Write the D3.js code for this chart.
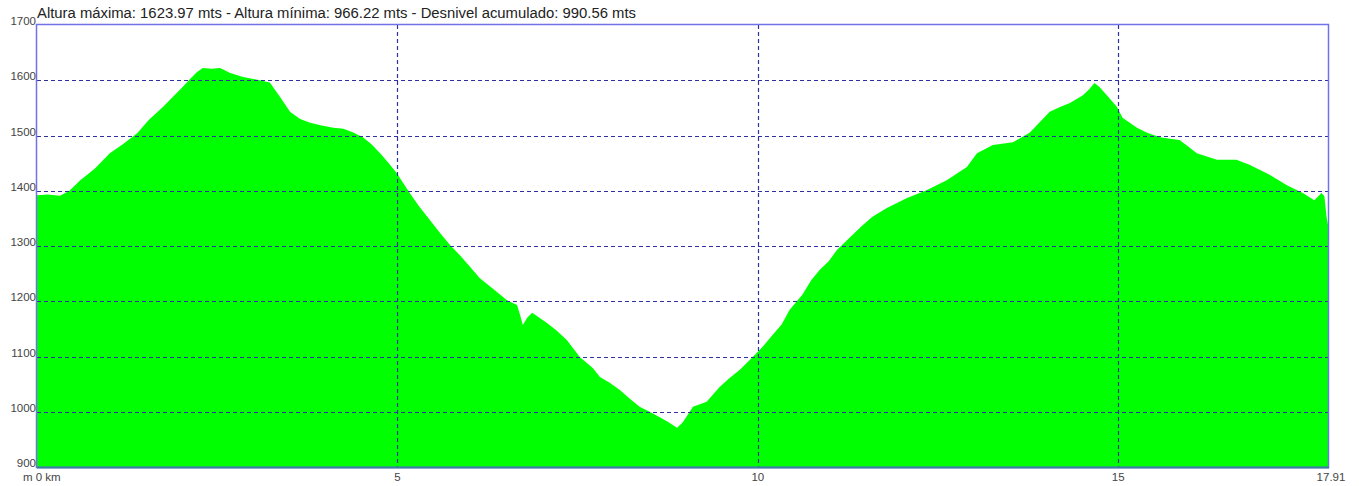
<!DOCTYPE html>
<html>
<head>
<meta charset="utf-8">
<script src="https://cdn.jsdelivr.net/npm/d3@7"></script>
<style>
  html, body { margin: 0; padding: 0; background: #ffffff; }
  text { font-family: "Liberation Sans", Arial, sans-serif; }
</style>
</head>
<body>
<div id="chart"></div>
<script>
// distance along the route (km) and elevation (m)
const distKm = [0, 0.15, 0.32, 0.45, 0.60, 0.80, 1.01, 1.20, 1.39, 1.55, 1.75, 1.90, 2.02, 2.12, 2.22, 2.30, 2.42, 2.54, 2.68, 2.86, 3.09, 3.23, 3.37, 3.51, 3.65, 3.79, 3.95, 4.11, 4.25, 4.38, 4.52, 4.64, 4.76, 4.88, 4.99, 5.17, 5.30, 5.45, 5.60, 5.73, 5.87, 6.01, 6.14, 6.33, 6.52, 6.66, 6.70, 6.74, 6.80, 6.87, 7.07, 7.20, 7.35, 7.53, 7.71, 7.81, 7.95, 8.09, 8.22, 8.36, 8.50, 8.64, 8.75, 8.82, 8.88, 8.96, 9.03, 9.10, 9.29, 9.47, 9.60, 9.75, 9.93, 10.07, 10.21, 10.33, 10.44, 10.62, 10.74, 10.86, 10.98, 11.10, 11.28, 11.45, 11.59, 11.79, 12.07, 12.34, 12.62, 12.90, 13.04, 13.26, 13.54, 13.77, 13.91, 14.05, 14.20, 14.33, 14.51, 14.60, 14.67, 14.74, 14.86, 14.98, 15.06, 15.26, 15.40, 15.58, 15.72, 15.85, 15.97, 16.09, 16.37, 16.64, 16.82, 16.96, 17.10, 17.34, 17.56, 17.72, 17.82, 17.86, 17.89, 17.91];
const elevM = [1392, 1393, 1391, 1400, 1419, 1440, 1468, 1485, 1504, 1528, 1552, 1572, 1588, 1602, 1615, 1622, 1621, 1622, 1613, 1606, 1600, 1596, 1570, 1543, 1530, 1523, 1518, 1514, 1512, 1506, 1497, 1484, 1468, 1450, 1432, 1396, 1372, 1347, 1322, 1302, 1283, 1262, 1242, 1222, 1202, 1193, 1176, 1157, 1170, 1179, 1161, 1148, 1130, 1099, 1079, 1063, 1052, 1039, 1024, 1009, 1000, 990, 982, 976, 971, 981, 995, 1009, 1018, 1045, 1060, 1076, 1099, 1118, 1140, 1158, 1184, 1212, 1238, 1257, 1272, 1293, 1316, 1337, 1353, 1369, 1387, 1401, 1419, 1443, 1468, 1483, 1488, 1505, 1524, 1543, 1552, 1559, 1573, 1584, 1595, 1588, 1570, 1552, 1532, 1514, 1505, 1497, 1494, 1492, 1480, 1468, 1456, 1456, 1447, 1438, 1429, 1410, 1396, 1383, 1396, 1390, 1353, 1338];
const yTicks = [900, 1000, 1100, 1200, 1300, 1400, 1500, 1600, 1700];
const xTicks = [5, 10, 15];
const totalKm = 17.91;
const titleText = "Altura máxima: 1623.97 mts - Altura mínima: 966.22 mts - Desnivel acumulado: 990.56 mts";

const W = 1359, H = 486;
const plot = { left: 37, top: 25, right: 1328, bottom: 467 };

const svg = d3.select("#chart").append("svg")
  .attr("width", W).attr("height", H);

const x = d3.scaleLinear().domain([0, totalKm]).range([plot.left, plot.right]);
const y = d3.scaleLinear().domain([900, 1700]).range([plot.bottom, plot.top]);

const profile = distKm.map((d, i) => ({ km: d, m: elevM[i] }));

// filled profile
const area = d3.area()
  .x(d => x(d.km))
  .y0(y(900))
  .y1(d => y(d.m));

svg.append("path")
  .datum(profile)
  .attr("d", area)
  .attr("fill", "#00ff00");

// dashed grid on top of the fill
const gridColor = "#3030a0";
svg.append("g").selectAll("line")
  .data(yTicks.filter(t => t > 900 && t < 1700))
  .join("line")
  .attr("x1", plot.left).attr("x2", plot.right)
  .attr("y1", d => Math.round(y(d)) + 0.5).attr("y2", d => Math.round(y(d)) + 0.5)
  .attr("stroke", gridColor)
  .attr("stroke-width", 1.2)
  .attr("stroke-dasharray", "4,3");

svg.append("g").selectAll("line")
  .data(xTicks)
  .join("line")
  .attr("x1", d => Math.round(x(d)) + 0.5).attr("x2", d => Math.round(x(d)) + 0.5)
  .attr("y1", plot.top).attr("y2", plot.bottom)
  .attr("stroke", gridColor)
  .attr("stroke-width", 1.2)
  .attr("stroke-dasharray", "4,3");

// frame
svg.append("rect")
  .attr("x", plot.left - 0.5).attr("y", plot.top - 0.5)
  .attr("width", plot.right - plot.left + 1)
  .attr("height", plot.bottom - plot.top + 1)
  .attr("fill", "none")
  .attr("stroke", "#7272e8")
  .attr("stroke-width", 1.5);

svg.append("line")
  .attr("x1", plot.left).attr("x2", plot.right + 1)
  .attr("y1", plot.bottom + 0.5).attr("y2", plot.bottom + 0.5)
  .attr("stroke", "#3a7fa0")
  .attr("stroke-width", 2);

// y labels
svg.append("g").selectAll("text")
  .data(yTicks)
  .join("text")
  .attr("x", plot.left - 1)
  .attr("y", d => y(d))
  .attr("text-anchor", "end")
  .attr("font-size", 11.5)
  .attr("fill", "#444")
  .text(d => d);

// x labels
svg.append("g").selectAll("text")
  .data(xTicks)
  .join("text")
  .attr("x", d => x(d))
  .attr("y", 481)
  .attr("text-anchor", "middle")
  .attr("font-size", 11.5)
  .attr("fill", "#444")
  .text(d => d);

svg.append("text")
  .attr("x", 23).attr("y", 481)
  .attr("font-size", 11.5).attr("fill", "#444")
  .text("m 0 km");

svg.append("text")
  .attr("x", x(totalKm) + 3).attr("y", 481)
  .attr("text-anchor", "middle")
  .attr("font-size", 11.5).attr("fill", "#444")
  .text(totalKm.toFixed(2));

// heading
svg.append("text")
  .attr("x", plot.left).attr("y", 18)
  .attr("font-size", 14).attr("fill", "#222")
  .attr("textLength", 599)
  .attr("lengthAdjust", "spacingAndGlyphs")
  .text(titleText);
</script>
</body>
</html>
